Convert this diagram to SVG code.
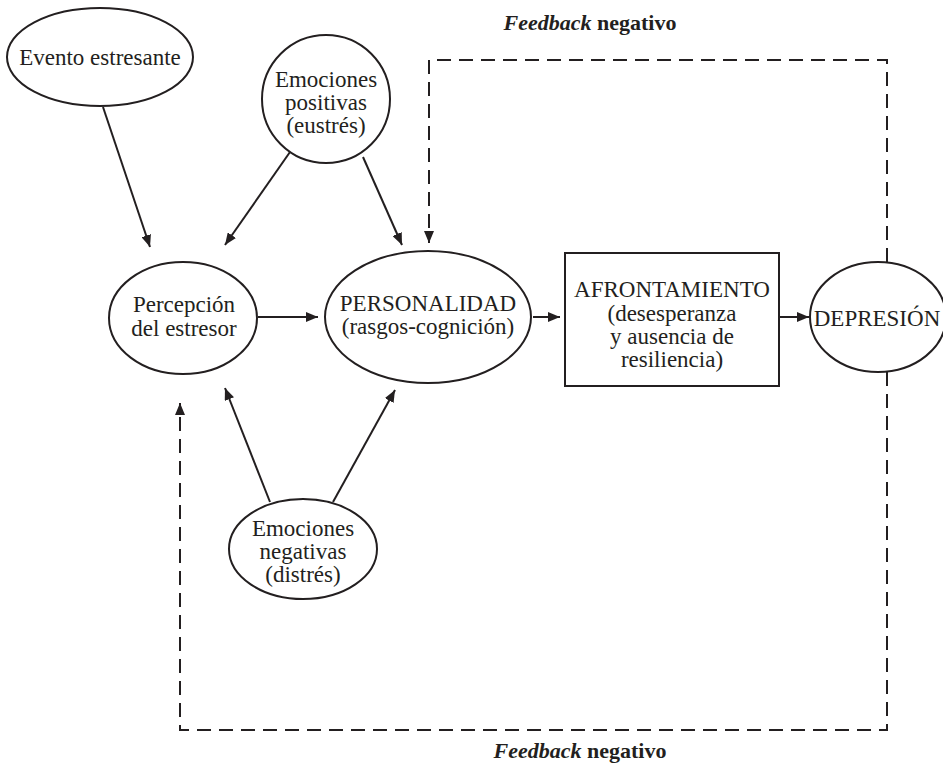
<svg xmlns="http://www.w3.org/2000/svg" width="943" height="767" viewBox="0 0 943 767">
<defs>
<style>
.n{fill:#fff;stroke:#231f20;stroke-width:2}
.t{font-family:"Liberation Serif","Times New Roman",serif;font-size:23px;fill:#231f20;text-anchor:middle}
.c{fill:none;stroke:#231f20;stroke-width:2}
.d{stroke-dasharray:14 8}
.fb{font-family:"Liberation Serif","Times New Roman",serif;font-size:22px;font-weight:bold;fill:#231f20;text-anchor:middle}
</style>
<marker id="ah" viewBox="0 0 12 10" refX="12" refY="5" markerWidth="12" markerHeight="10" markerUnits="userSpaceOnUse" orient="auto">
<path d="M0,0 L12,5 L0,10 Z" fill="#231f20"/>
</marker>
</defs>
<rect width="943" height="767" fill="#fff"/>
<g id="connectors">
<line class="c" x1="103" y1="107" x2="150" y2="247" marker-end="url(#ah)"/>
<line class="c" x1="290" y1="152" x2="225" y2="245" marker-end="url(#ah)"/>
<line class="c" x1="363" y1="157" x2="402" y2="245" marker-end="url(#ah)"/>
<line class="c" x1="258" y1="317" x2="318" y2="317" marker-end="url(#ah)"/>
<line class="c" x1="533" y1="317" x2="560" y2="317" marker-end="url(#ah)"/>
<line class="c" x1="780" y1="317" x2="809" y2="317" marker-end="url(#ah)"/>
<line class="c" x1="270" y1="502" x2="225" y2="388" marker-end="url(#ah)"/>
<line class="c" x1="333" y1="502" x2="395" y2="390" marker-end="url(#ah)"/>
<polyline class="c d" points="887,262 887,60 429,60 429,243" marker-end="url(#ah)"/>
<polyline class="c d" points="887,372 887,730 180,730 180,403" marker-end="url(#ah)"/>
</g>
<g id="evento">
<ellipse class="n" cx="100" cy="57" rx="93" ry="49"/>
<text class="t" x="100" y="65">Evento estresante</text>
</g>
<g id="emo-positivas">
<ellipse class="n" cx="326" cy="99" rx="64" ry="64"/>
<text class="t" x="326" y="87">Emociones</text>
<text class="t" x="326" y="110">positivas</text>
<text class="t" x="326" y="133">(eustrés)</text>
</g>
<g id="percepcion">
<ellipse class="n" cx="183" cy="318" rx="74" ry="56"/>
<text class="t" x="184" y="312">Percepción</text>
<text class="t" x="184" y="336">del estresor</text>
</g>
<g id="personalidad">
<ellipse class="n" cx="428" cy="317" rx="103" ry="66"/>
<text class="t" x="428" y="311">PERSONALIDAD</text>
<text class="t" x="428" y="334">(rasgos-cognición)</text>
</g>
<g id="afrontamiento">
<rect class="n" x="565" y="253" width="214" height="133"/>
<text class="t" x="672" y="297">AFRONTAMIENTO</text>
<text class="t" x="672" y="321">(desesperanza</text>
<text class="t" x="672" y="344">y ausencia de</text>
<text class="t" x="672" y="367">resiliencia)</text>
</g>
<g id="depresion">
<ellipse class="n" cx="878" cy="317" rx="68" ry="55"/>
<text class="t" x="877" y="326">DEPRESIÓN</text>
</g>
<g id="emo-negativas">
<ellipse class="n" cx="303" cy="549" rx="74" ry="50"/>
<text class="t" x="303" y="536">Emociones</text>
<text class="t" x="303" y="559">negativas</text>
<text class="t" x="303" y="582">(distrés)</text>
</g>
<g id="labels">
<text class="fb" x="590" y="30"><tspan font-style="italic">Feedback</tspan> negativo</text>
<text class="fb" x="580" y="758"><tspan font-style="italic">Feedback</tspan> negativo</text>
</g>
</svg>
